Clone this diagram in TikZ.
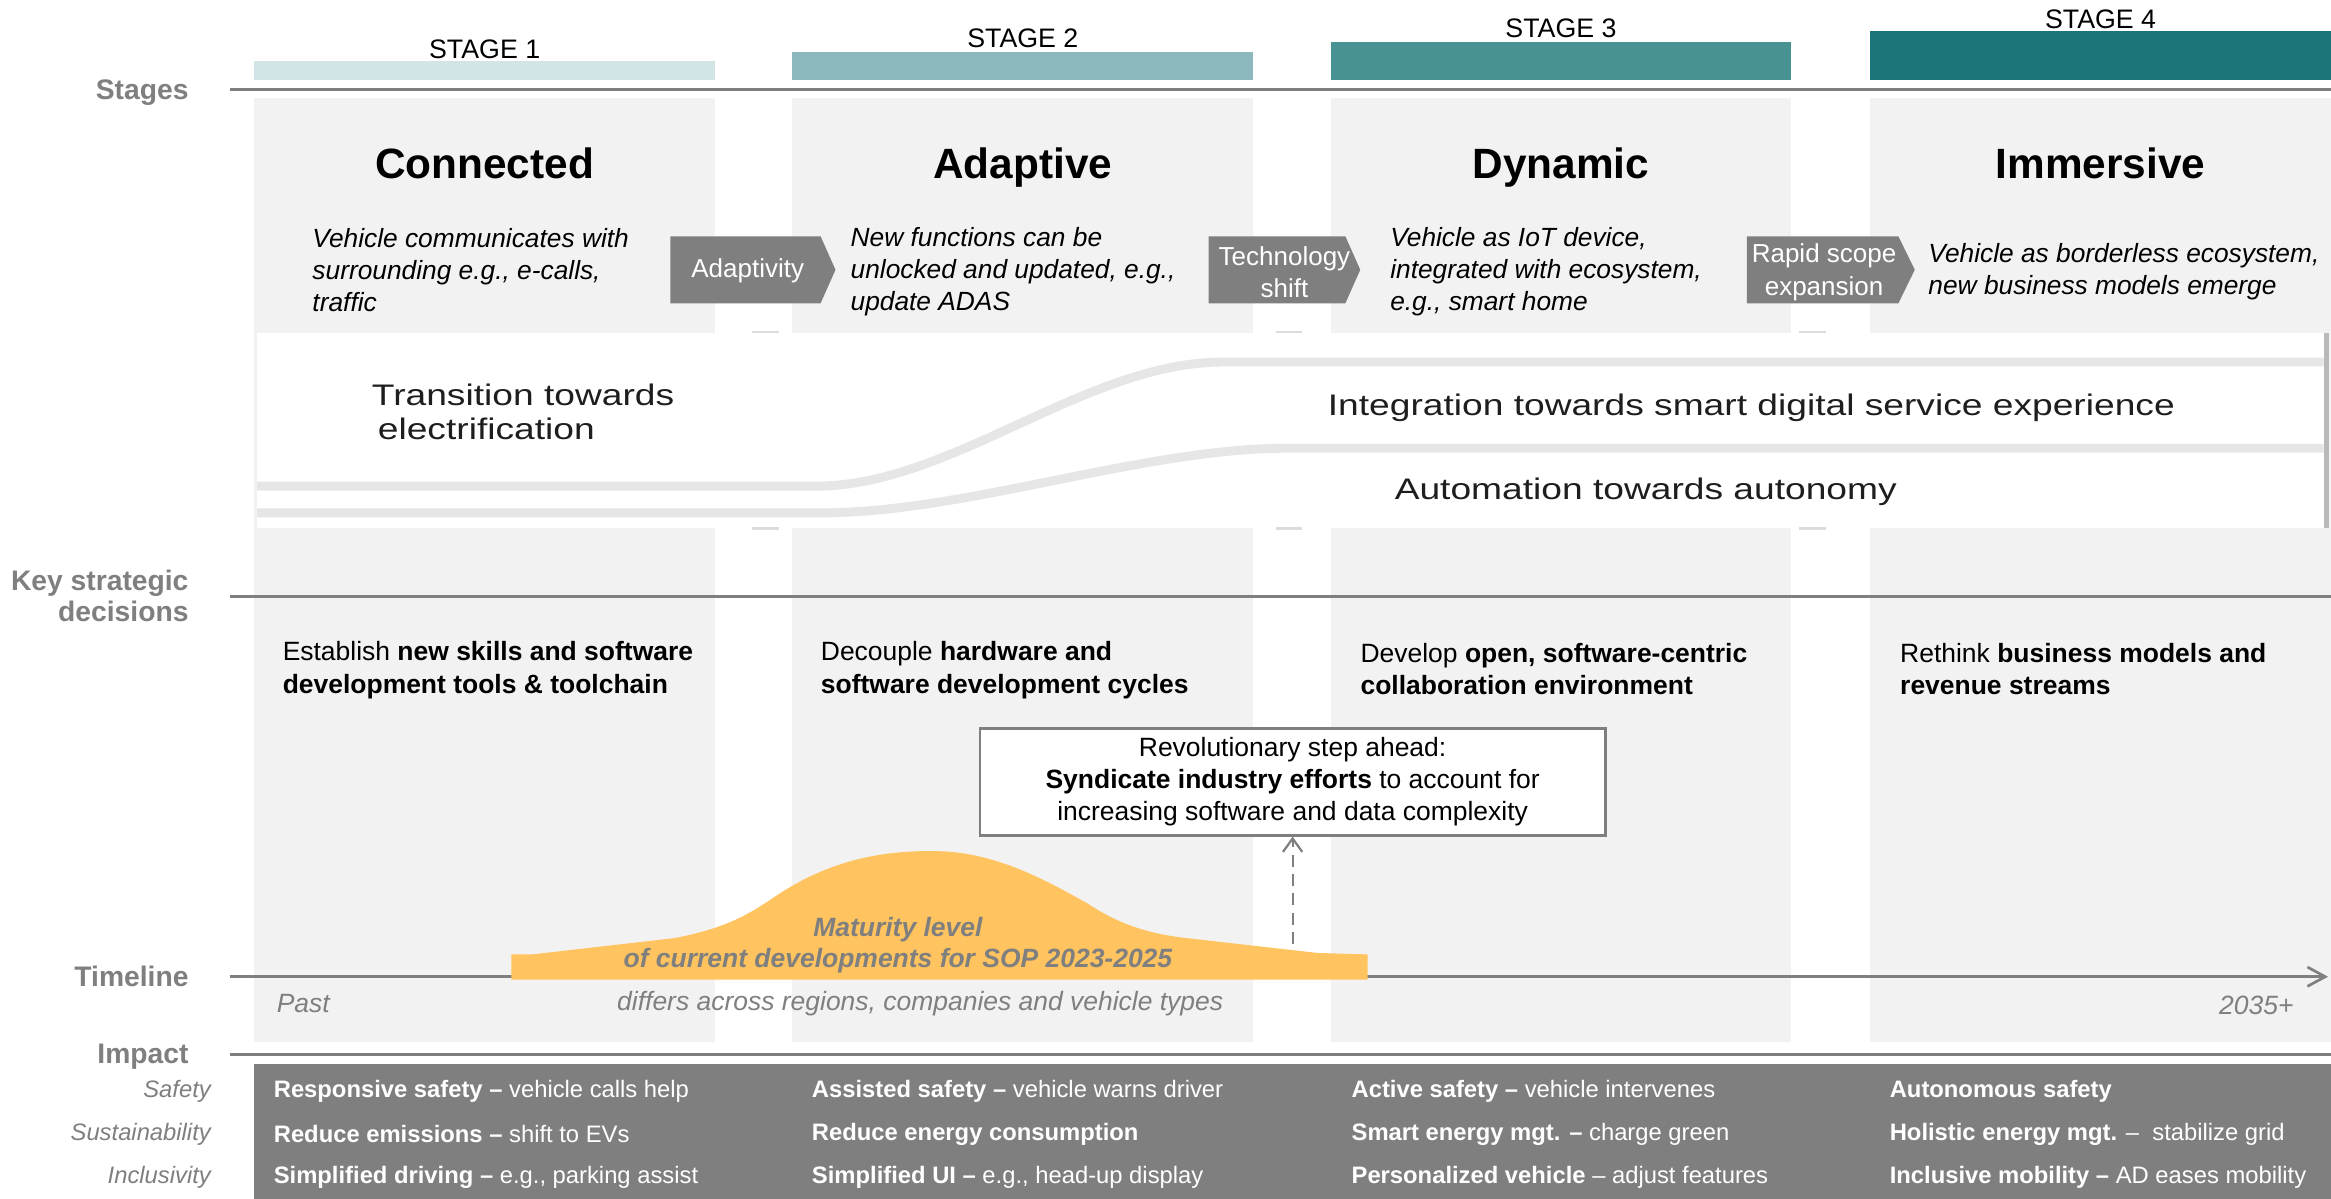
\documentclass[tikz,border=0pt]{standalone}
\usepackage{fontspec}
\setmainfont{Liberation Sans}
\newfontfamily\bandfont[FakeStretch=1.25]{Liberation Sans}
\usetikzlibrary{arrows.meta}
\definecolor{grayT}{HTML}{7F7F7F}
\definecolor{colbg}{HTML}{F2F2F2}
\definecolor{curvec}{HTML}{E6E6E6}
\definecolor{hillc}{HTML}{FFC35F}
\definecolor{stA}{HTML}{D2E4E6}
\definecolor{stB}{HTML}{8CB9BD}
\definecolor{stC}{HTML}{499294}
\definecolor{stD}{HTML}{1A7478}
\definecolor{bandtxt}{HTML}{1E1E1E}
\definecolor{markc}{HTML}{DCDCDC}
\newcommand\fsz[2]{\fontsize{#1}{#2}\selectfont}
\begin{document}
\begin{tikzpicture}[x=1pt,y=-1pt,
  sidelbl/.style={anchor=east, inner sep=0, text=grayT, font=\fsz{19}{21}\bfseries, align=right},
  subl/.style={anchor=east, inner sep=0, text=grayT, font=\fsz{16}{19}\itshape},
  stagelbl/.style={inner sep=0, font=\fsz{18}{20}},
  stagetitle/.style={inner sep=0, font=\fsz{28.5}{32}\bfseries, text height=20.4pt, text depth=0pt},
  desc/.style={anchor=west, inner sep=0, align=left, font=\fsz{17.7}{21.5}\itshape},
  decis/.style={anchor=west, inner sep=0, align=left, font=\fsz{17.8}{22}},
  arrowtxt/.style={inner sep=0, align=center, text=white, font=\fsz{17.5}{22}},
  arrowshape/.style={fill=grayT},
  impacttxt/.style={anchor=west, inner sep=0, text=white, font=\fsz{16}{19}},
  tltxt/.style={inner sep=0, text=grayT, font=\fsz{17.8}{21}\itshape},
  bandt/.style={inner sep=0, text=bandtxt, font=\bandfont\fsz{20}{23}, anchor=west, align=left},
  rulel/.style={draw=grayT, line width=2},
  colbox/.style={fill=colbg},
  bandcurve/.style={draw=curvec, line width=6},
  gapmark/.style={draw=markc, line width=1.5}
]
\path[use as bounding box, fill=white] (0,0) rectangle (1568,806.5);

% columns
\foreach \xa in {171,533,895,1258}{
  \fill[colbox] (\xa,66) rectangle ++(310,635);
}
% stage bars
\fill[stA] (171,41) rectangle (481,54);
\fill[stB] (533,35) rectangle (843,54);
\fill[stC] (895,28) rectangle (1205,54);
\fill[stD] (1258,21) rectangle (1568,54);

% band
\fill[white] (173,224) rectangle (1565,355);
\draw[bandcurve] (173,327) -- (549,327) .. controls (640,327) and (730,243.5) .. (823,243.5) -- (1563,243.5);
\draw[bandcurve] (173,345) -- (552,345) .. controls (650,345) and (768,301.5) .. (866,301.5) -- (1563,301.5);
\draw[draw=gray!55, line width=3] (1565,224) -- (1565,355);
\foreach \xm in {506,858,1210}{
  \draw[gapmark] (\xm,223.5) -- ++(18,0);
  \draw[gapmark] (\xm,355.5) -- ++(18,0);
}

% rules
\draw[rulel] (155,60) -- (1568,60);
\draw[rulel] (155,401) -- (1568,401);
\draw[rulel] (155,709) -- (1568,709);

% timeline
\coordinate (tlstart) at (155,657);
\coordinate (tlend) at (1566,657);
\draw[draw=grayT, line width=1.8, -{Straight Barb[length=12pt,width=13pt,line width=1.8pt]}] (tlstart) -- (tlend);

% hill
\fill[hillc] (344,659) -- (344,642) -- (358,642) -- (454,631)
  .. controls (490,624) and (505,614) .. (520,604)
  .. controls (555,580) and (590,572) .. (629,572.5)
  .. controls (668,573) and (700,590) .. (732,608)
  .. controls (750,620) and (770,628) .. (798,631)
  -- (886,641) -- (920,642) -- (920,659) -- cycle;

% arrow shapes
\fill[arrowshape] (451,159) -- (552,159) -- (562,181.5) -- (552,204) -- (451,204) -- cycle;
\fill[arrowshape] (813,159) -- (905,159) -- (915,181.5) -- (905,204) -- (813,204) -- cycle;
\fill[arrowshape] (1175,159) -- (1277,159) -- (1288,181.5) -- (1277,204) -- (1175,204) -- cycle;

% impact box
\fill[grayT] (171,716) rectangle (1568,806.5);

% left labels
\node[sidelbl] (lstages) at (127,62.5) {Stages};
\node[sidelbl] (lkey) at (127,401) {Key strategic\\decisions};
\node[sidelbl] (ltime) at (127,657) {Timeline};
\node[sidelbl] (limpact) at (127,711) {Impact};
\node[subl] (lsafe) at (142,734) {Safety};
\node[subl] (lsust) at (142,763) {Sustainability};
\node[subl] (lincl) at (142,792) {Inclusivity};

% stage labels
\node[stagelbl] (s1) at (326,33) {STAGE 1};
\node[stagelbl] (s2) at (688,26) {STAGE 2};
\node[stagelbl] (s3) at (1050,19) {STAGE 3};
\node[stagelbl] (s4) at (1413,13) {STAGE 4};

% titles
\node[stagetitle] (t1) at (326,110) {Connected};
\node[stagetitle] (t2) at (688,110) {Adaptive};
\node[stagetitle] (t3) at (1050,110) {Dynamic};
\node[stagetitle] (t4) at (1413,110) {Immersive};

% descriptions
\node[desc] (d1) at (210,181.5) {Vehicle communicates with\\surrounding e.g., e-calls,\\traffic};
\node[desc] (d2) at (572,183) {New functions can be\\unlocked and updated, e.g.,\\update ADAS};
\node[desc] (d3) at (935,183) {Vehicle as IoT device,\\integrated with ecosystem,\\e.g., smart home};
\node[desc] (d4) at (1297,183) {Vehicle as borderless ecosystem,\\new business models emerge};

% arrow texts
\node[arrowtxt] (a1) at (503,182) {Adaptivity};
\node[arrowtxt] (a2) at (864,183) {Technology\\shift};
\node[arrowtxt] (a3) at (1227,183) {Rapid scope\\expansion};

% band texts
\node[bandt] (elec) at (250,277) {Transition towards\\\hspace*{4pt}electrification};
\node[bandt] (integ) at (893,274) {Integration towards smart digital service experience};
\node[bandt] (autom) at (938,331) {Automation towards autonomy};

% decisions
\node[decis] (k1) at (190,451) {Establish \textbf{new skills and software}\\\textbf{development tools \& toolchain}};
\node[decis] (k2) at (552,451) {Decouple \textbf{hardware and}\\\textbf{software development cycles}};
\node[decis] (k3) at (915,450) {Develop \textbf{open, software-centric}\\\textbf{collaboration environment}};
\node[decis] (k4) at (1278,450) {Rethink \textbf{business models and}\\\textbf{revenue streams}};

% revolutionary box
\node[draw=grayT, line width=1.5, fill=white, minimum width=421pt, minimum height=72pt, inner sep=0, align=center, font=\fsz{17.8}{21.5}] (rev) at (869.5,526)
  {Revolutionary step ahead:\\\textbf{Syndicate industry efforts} to account for\\increasing software and data complexity};
\coordinate (hillpt) at (869.5,635);
\draw[draw=grayT, line width=1.5, dash pattern=on 8pt off 5pt, -{Straight Barb[length=9pt,width=13pt,line width=1.5pt]}] (hillpt) -- (rev.south);

% hill text
\node[inner sep=0, align=center, text=grayT, font=\fsz{17.8}{21}\bfseries\itshape] (mat) at (604,636) {Maturity level\\of current developments for SOP 2023-2025};

% timeline texts
\node[tltxt, anchor=west] (past) at (186,675) {Past};
\node[tltxt] (differs) at (619,675) {differs across regions, companies and vehicle types};
\node[tltxt, anchor=east] (y2035) at (1543,676) {2035+};

% impact texts
\node[impacttxt] (i11) at (184,734) {\textbf{Responsive safety –} vehicle calls help};
\node[impacttxt] (i12) at (184,763) {\textbf{Reduce emissions –} shift to EVs};
\node[impacttxt] (i13) at (184,792) {\textbf{Simplified driving –} e.g., parking assist};
\node[impacttxt] (i21) at (546,734) {\textbf{Assisted safety –} vehicle warns driver};
\node[impacttxt] (i22) at (546,763) {\textbf{Reduce energy consumption}};
\node[impacttxt] (i23) at (546,792) {\textbf{Simplified UI –} e.g., head-up display};
\node[impacttxt] (i31) at (909,734) {\textbf{Active safety –} vehicle intervenes};
\node[impacttxt] (i32) at (909,763) {\textbf{Smart energy mgt. –} charge green};
\node[impacttxt] (i33) at (909,792) {\textbf{Personalized vehicle} – adjust features};
\node[impacttxt] (i41) at (1271,734) {\textbf{Autonomous safety}};
\node[impacttxt] (i42) at (1271,763) {\textbf{Holistic energy mgt.} –\ \ stabilize grid};
\node[impacttxt] (i43) at (1271,792) {\textbf{Inclusive mobility –} AD eases mobility};
\end{tikzpicture}
\end{document}
